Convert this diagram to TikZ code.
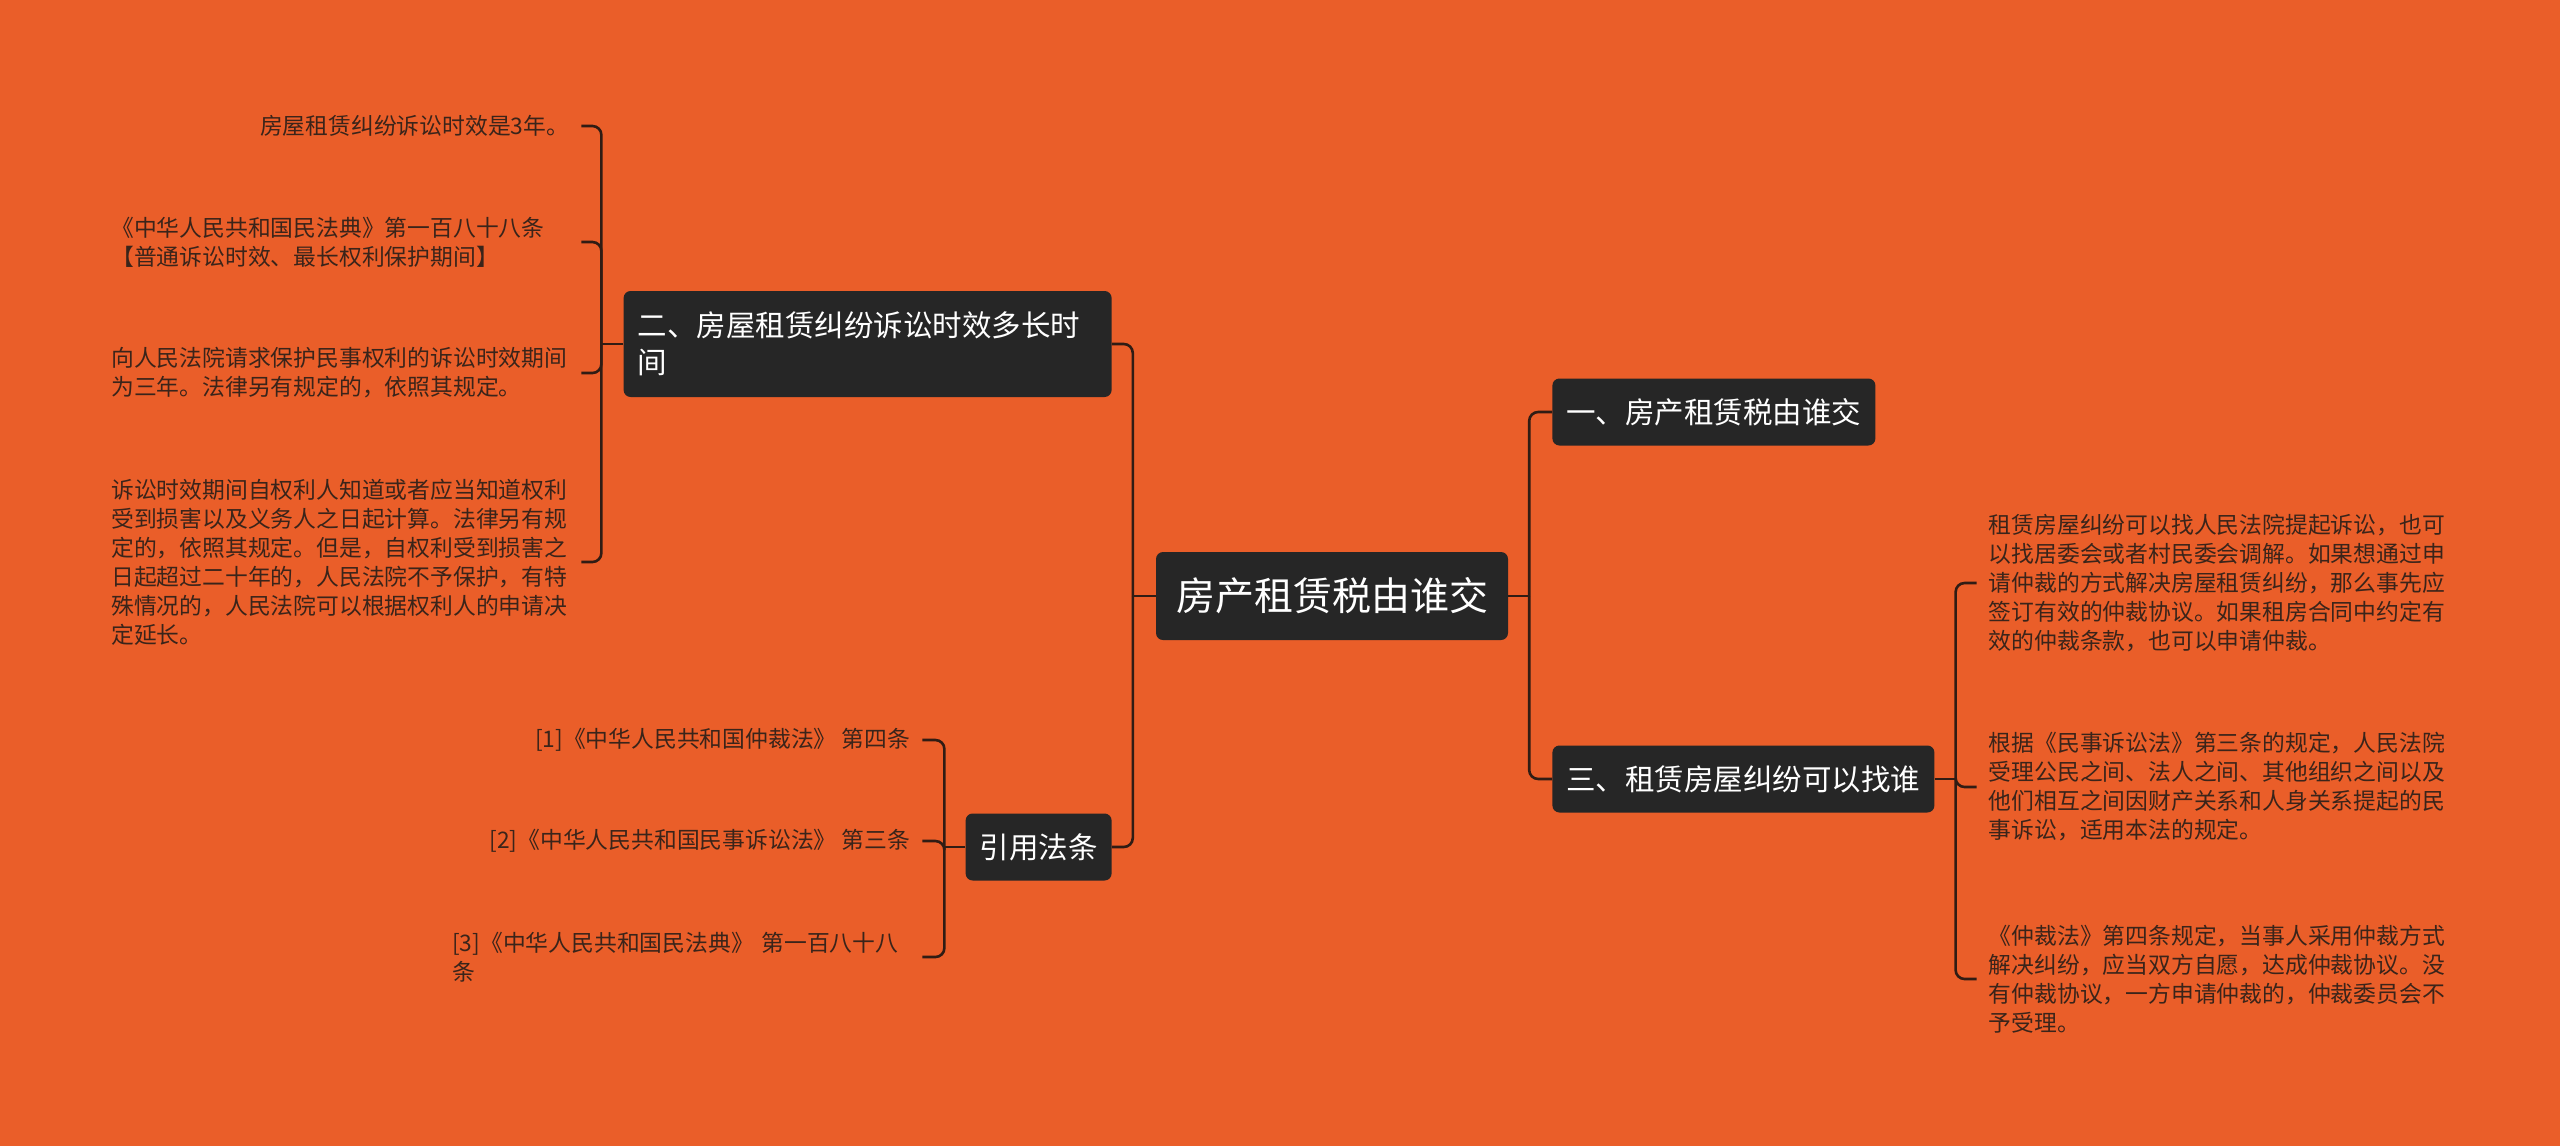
\documentclass[tikz,border=0pt]{standalone}
\usepackage{fontspec}
\setmainfont{Noto Sans CJK SC}
\usetikzlibrary{positioning}

\definecolor{bgorange}{RGB}{234,94,41}
\definecolor{boxdark}{RGB}{38,38,38}
\definecolor{linedark}{RGB}{48,28,20}
\definecolor{leaftext}{RGB}{58,36,26}

\begin{document}
\begin{tikzpicture}[
  x=1pt, y=-1pt,
  rootbox/.style={fill=boxdark, rounded corners=7pt, text=white,
                  font=\fontsize{39}{47}\selectfont, inner xsep=20pt,
                  minimum height=88pt},
  topic/.style={fill=boxdark, rounded corners=7pt, text=white,
                font=\fontsize{29.5}{37}\selectfont, inner xsep=14pt,
                minimum height=67pt},
  leaf/.style={text=leaftext, font=\fontsize{22.8}{29}\selectfont, align=left,
               inner xsep=12pt, inner ysep=3pt},
  wide/.style={text width=458pt},
  conn/.style={draw=linedark, line width=2.6pt, rounded corners=9pt},
  node distance=44pt
]
\fill[bgorange] (0,0) rectangle (2560,1146);
\useasboundingbox (0,0) rectangle (2560,1146);

% centre and main branches
\node[rootbox] (root) at (1332,596) {房产租赁税由谁交};
\node[topic, right=of root, yshift=184pt] (t1) {一、房产租赁税由谁交};
\node[topic, right=of root, yshift=-183pt] (t3) {三、租赁房屋纠纷可以找谁};
\node[topic, left=of root, yshift=252pt, text width=460pt, align=left,
      minimum height=106pt] (t2) {二、房屋租赁纠纷诉讼时效多长时\\间};
\node[topic, left=of root, yshift=-251pt] (t4) {引用法条};

% leaves of branch two
\node[leaf, left=42pt of t2, yshift=218pt] (a1) {房屋租赁纠纷诉讼时效是3年。};
\node[leaf, wide, left=42pt of t2, yshift=102pt] (a2)
  {《中华人民共和国民法典》第一百八十八条\\【普通诉讼时效、最长权利保护期间】};
\node[leaf, wide, left=42pt of t2, yshift=-29pt] (a3)
  {向人民法院请求保护民事权利的诉讼时效期间\\为三年。法律另有规定的，依照其规定。};
\node[leaf, wide, left=42pt of t2, yshift=-218pt] (a4)
  {诉讼时效期间自权利人知道或者应当知道权利\\受到损害以及义务人之日起计算。法律另有规\\
   定的，依照其规定。但是，自权利受到损害之\\日起超过二十年的，人民法院不予保护，有特\\
   殊情况的，人民法院可以根据权利人的申请决\\定延长。};

% cited laws
\node[leaf, left=43pt of t4, yshift=107pt] (c1) {[1]《中华人民共和国仲裁法》 第四条};
\node[leaf, left=43pt of t4, yshift=6pt] (c2) {[2]《中华人民共和国民事诉讼法》 第三条};
\node[leaf, wide, left=43pt of t4, yshift=-110pt] (c3)
  {[3]《中华人民共和国民法典》 第一百八十八\\条};

% leaves of branch three
\node[leaf, wide, right=42pt of t3, yshift=196pt] (r1)
  {租赁房屋纠纷可以找人民法院提起诉讼，也可\\以找居委会或者村民委会调解。如果想通过申\\
   请仲裁的方式解决房屋租赁纠纷，那么事先应\\签订有效的仲裁协议。如果租房合同中约定有\\
   效的仲裁条款，也可以申请仲裁。};
\node[leaf, wide, right=42pt of t3, yshift=-8pt] (r2)
  {根据《民事诉讼法》第三条的规定，人民法院\\受理公民之间、法人之间、其他组织之间以及\\
   他们相互之间因财产关系和人身关系提起的民\\事诉讼，适用本法的规定。};
\node[leaf, wide, right=42pt of t3, yshift=-200pt] (r3)
  {《仲裁法》第四条规定，当事人采用仲裁方式\\解决纠纷，应当双方自愿，达成仲裁协议。没\\
   有仲裁协议，一方申请仲裁的，仲裁委员会不\\予受理。};

% junctions
\coordinate[right=21pt of root] (rj);
\coordinate[left=23pt of root] (lj);
\coordinate[left=22pt of t2] (j2);
\coordinate[left=21pt of t4] (j4);
\coordinate[right=21pt of t3] (j3);

% connectors
\draw[conn] (root.east) -- (rj);
\draw[conn] (rj) |- (t1.west);
\draw[conn] (rj) |- (t3.west);
\draw[conn] (root.west) -- (lj);
\draw[conn] (lj) |- (t2.east);
\draw[conn] (lj) |- (t4.east);
\draw[conn] (t2.west) -- (j2);
\foreach \n in {a1,a2,a3,a4} \draw[conn] (j2) |- (\n.east);
\draw[conn] (t4.west) -- (j4);
\foreach \n in {c1,c2,c3} \draw[conn] (j4) |- (\n.east);
\draw[conn] (t3.east) -- (j3);
\foreach \n in {r1,r2,r3} \draw[conn] (j3) |- (\n.west);

\end{tikzpicture}
\end{document}
